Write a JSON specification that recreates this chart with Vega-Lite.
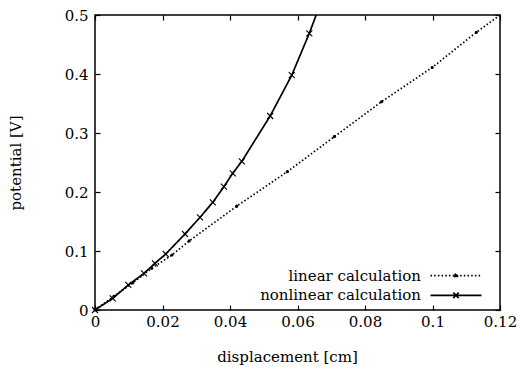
{
  "$schema": "https://vega.github.io/schema/vega-lite/v6.json",
  "width": 405,
  "height": 295,
  "autosize": "none",
  "padding": {"left": 95, "top": 15, "right": 20, "bottom": 61},
  "background": "white",
  "config": {
    "view": {"stroke": "black", "strokeWidth": 1.5},
    "font": "DejaVu Serif",
    "axis": {
      "domain": false,
      "grid": false,
      "tickColor": "black",
      "tickSize": -5,
      "tickWidth": 1.2,
      "labelFont": "DejaVu Serif",
      "labelFontSize": 15,
      "labelColor": "black",
      "titleFont": "DejaVu Serif",
      "titleFontSize": 15,
      "titleFontWeight": "normal",
      "titleColor": "black"
    },
    "legend": {
      "labelFont": "DejaVu Serif",
      "labelFontSize": 15,
      "labelColor": "black",
      "labelLimit": 400,
      "padding": 0,
      "rowPadding": 3.6
    }
  },
  "data": {
    "values": [
      {"x": 0, "y": 0, "series": "linear calculation"},
      {"x": 0.0056, "y": 0.023, "series": "linear calculation"},
      {"x": 0.0112, "y": 0.046, "series": "linear calculation"},
      {"x": 0.0168, "y": 0.0707, "series": "linear calculation"},
      {"x": 0.0228, "y": 0.0932, "series": "linear calculation"},
      {"x": 0.0279, "y": 0.117, "series": "linear calculation"},
      {"x": 0.042, "y": 0.176, "series": "linear calculation"},
      {"x": 0.057, "y": 0.2344, "series": "linear calculation"},
      {"x": 0.0709, "y": 0.2937, "series": "linear calculation"},
      {"x": 0.0849, "y": 0.353, "series": "linear calculation"},
      {"x": 0.0999, "y": 0.411, "series": "linear calculation"},
      {"x": 0.113, "y": 0.4707, "series": "linear calculation"},
      {"x": 0.127, "y": 0.529, "series": "linear calculation"},
      {"x": 0, "y": 0, "series": "nonlinear calculation"},
      {"x": 0.00524, "y": 0.0198, "series": "nonlinear calculation"},
      {"x": 0.00987, "y": 0.0424, "series": "nonlinear calculation"},
      {"x": 0.01452, "y": 0.0622, "series": "nonlinear calculation"},
      {"x": 0.01778, "y": 0.0792, "series": "nonlinear calculation"},
      {"x": 0.02095, "y": 0.0949, "series": "nonlinear calculation"},
      {"x": 0.02667, "y": 0.1288, "series": "nonlinear calculation"},
      {"x": 0.0311, "y": 0.157, "series": "nonlinear calculation"},
      {"x": 0.0349, "y": 0.1825, "series": "nonlinear calculation"},
      {"x": 0.0382, "y": 0.209, "series": "nonlinear calculation"},
      {"x": 0.0408, "y": 0.2317, "series": "nonlinear calculation"},
      {"x": 0.0435, "y": 0.252, "series": "nonlinear calculation"},
      {"x": 0.0519, "y": 0.3288, "series": "nonlinear calculation"},
      {"x": 0.0583, "y": 0.398, "series": "nonlinear calculation"},
      {"x": 0.0635, "y": 0.469, "series": "nonlinear calculation"},
      {"x": 0.0685, "y": 0.545, "series": "nonlinear calculation"}
    ]
  },
  "layer": [
    {
      "mark": {"type": "line", "clip": true, "color": "black", "strokeWidth": 1.7, "interpolate": "linear"},
      "encoding": {
        "x": {
          "field": "x", "type": "quantitative",
          "scale": {"domain": [0, 0.12], "nice": false, "zero": false},
          "axis": {"orient": "bottom", "values": [0, 0.02, 0.04, 0.06, 0.08, 0.1, 0.12], "labelExpr": "'' + datum.value", "labelPadding": 9, "title": "displacement [cm]", "titleX": 192, "titleY": 51, "titleBaseline": "alphabetic", "labelFlush": false}
        },
        "y": {
          "field": "y", "type": "quantitative",
          "scale": {"domain": [0, 0.5], "nice": false, "zero": false},
          "axis": {"orient": "left", "values": [0, 0.1, 0.2, 0.3, 0.4, 0.5], "labelExpr": "'' + datum.value", "labelPadding": 12, "title": "potential [V]", "titleX": -75, "titleY": 147.5, "titleBaseline": "alphabetic", "labelFlush": false}
        },
        "strokeDash": {
          "field": "series", "type": "nominal",
          "scale": {"range": [[1.5, 2.2], [1, 0]]},
          "legend": {
            "title": null, "orient": "none", "legendX": 353.5, "legendY": 253.2,
            "symbolType": "M-5.1,0L5.1,0", "symbolSize": 100, "symbolStrokeColor": "black", "symbolFillColor": "black", "symbolStrokeWidth": 1.7,
            "labelAlign": "right", "labelOffset": -42.5,
            "encode": {
              "symbols": {
                "update": {
                  "shape": {"signal": "datum.value === 'linear calculation' ? 'M-5.1,0L5.1,0M-0.32,0A0.32,0.32 0 1,0 0.32,0A0.32,0.32 0 1,0 -0.32,0Z' : 'M-5.1,0L5.1,0M-0.55,-0.55L0.55,0.55M-0.55,0.55L0.55,-0.55'"},
                  "fill": {"value": "black"},
                  "stroke": {"value": "black"},
                  "strokeWidth": {"value": 1.7},
                  "strokeDash": {"signal": "datum.value === 'linear calculation' ? [1.5, 2.2] : [1, 0]"},
                  "opacity": {"value": 1},
                  "strokeOpacity": {"value": 1},
                  "fillOpacity": {"value": 1}
                }
              }
            }
          }
        }
      }
    },
    {
      "transform": [{"filter": "datum.y <= 0.5 && datum.x <= 0.12"}],
      "mark": {"type": "point", "filled": false, "fill": "black", "stroke": "black", "strokeWidth": 1.1, "size": 36, "opacity": 1, "fillOpacity": 1},
      "encoding": {
        "x": {
          "field": "x", "type": "quantitative",
          "scale": {"domain": [0, 0.12], "nice": false, "zero": false},
          "axis": {"orient": "top", "values": [0, 0.02, 0.04, 0.06, 0.08, 0.1, 0.12], "labels": false, "title": null}
        },
        "y": {
          "field": "y", "type": "quantitative",
          "scale": {"domain": [0, 0.5], "nice": false, "zero": false},
          "axis": {"orient": "right", "values": [0, 0.1, 0.2, 0.3, 0.4, 0.5], "labels": false, "title": null}
        },
        "shape": {
          "field": "series", "type": "nominal",
          "scale": {"domain": ["linear calculation", "nonlinear calculation"], "range": ["M-0.35,0A0.35,0.35 0 1,0 0.35,0A0.35,0.35 0 1,0 -0.35,0Z", "M-1,-1L1,1M-1,1L1,-1"]},
          "legend": null
        }
      }
    }
  ],
  "resolve": {"axis": {"x": "independent", "y": "independent"}}
}
